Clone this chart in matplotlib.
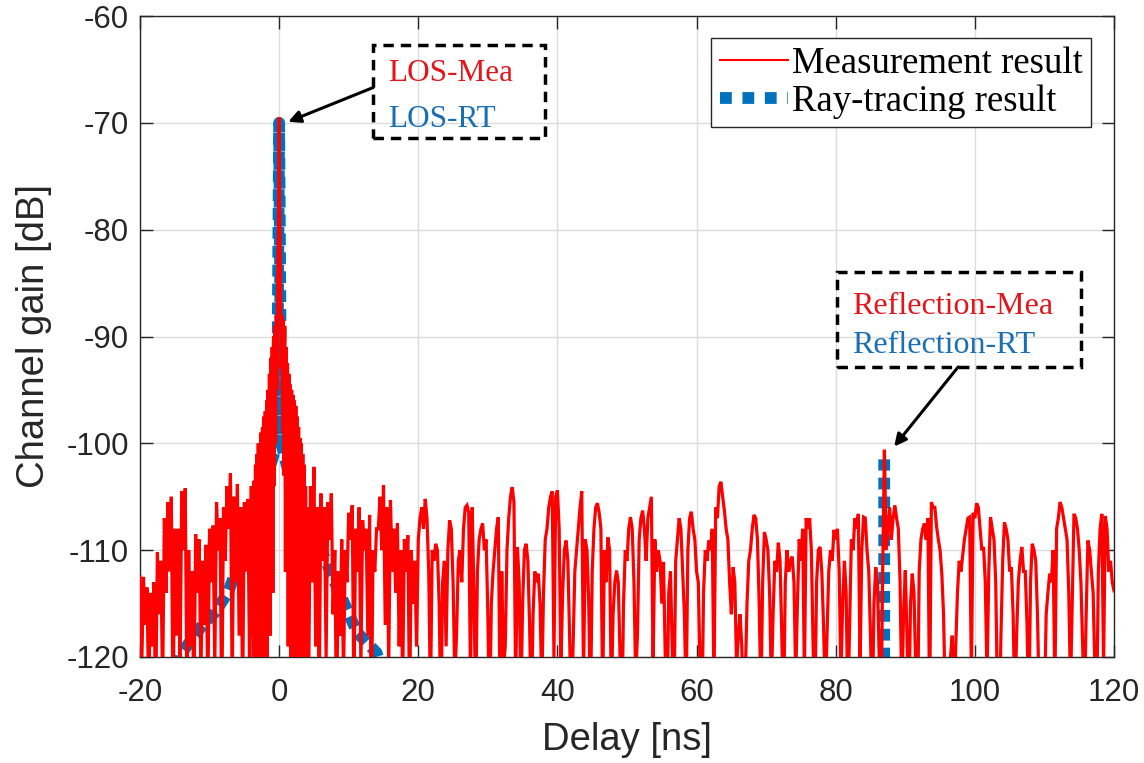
import numpy as np
import matplotlib
matplotlib.use("Agg")
import matplotlib.pyplot as plt
from matplotlib.lines import Line2D
from matplotlib.patches import Rectangle

# ---------------- data ----------------
# Measurement result, delay -20 .. -4.25 ns: local peaks (every 0.5 ns from -20)
# and the troughs between them (every 0.5 ns from -19.75)
meas_left_start, meas_left_step = -20.0, 0.25
meas_left_peaks = [-112.5, -112.5, -113.5, -114, -113, -110.2, -111, -107, -105.5, -105,
                   -108, -108, -104.5, -104.2, -110, -112, -108.5, -109, -111, -109.5,
                   -108, -107.7, -105.5, -107, -106, -104, -102.8, -105, -103.8, -106,
                   -105.5, -105.2]
meas_left_troughs = [-121, -117, -124, -119, -125, -116, -123, -114, -112, -126,
                     -118, -122, -110, -124, -119, -125, -114, -122, -117, -124,
                     -113, -121, -110, -126, -111, -108, -123, -113, -118, -124,
                     -112, -121]

# main lobe around the LOS path, -4.0 .. 3.9 ns
meas_lobe_start, meas_lobe_step = -4.0, 0.1
meas_lobe_gain = [
    -104, -118, -106, -124, -103.5, -112, -102, -121, -101, -115,
    -100, -126, -100, -117, -99, -122, -98.5, -113, -97.5, -125,
    -97, -116, -96, -120, -95, -111, -93.5, -118, -92, -108,
    -91, -114, -90, -104, -89, -100, -88, -95, -84, -80,
    -69.5,
    -78, -84, -93, -88, -99, -88.5, -103, -89, -112, -91,
    -107, -92.5, -119, -93.5, -110, -94.5, -123, -95, -114, -95.5,
    -121, -96, -112, -96.5, -126, -97.5, -116, -98.5, -120, -99.5,
    -113, -100, -124, -101, -117, -102, -121, -104, -112,
]

# 4.0 .. 20.0 ns: peaks every 0.5 ns from 4.0, troughs between them
meas_right_start, meas_right_step = 4.0, 0.25
meas_right_peaks = [-106, -104, -102.2, -106, -104.7, -106, -105.5, -104.7, -110, -112,
                    -109, -110, -106.5, -105.8, -108, -106, -107.2, -108, -106.7, -110,
                    -108, -105, -103.9, -106, -105.3, -108, -107.5, -110, -109, -108.6,
                    -110, -111, -109]
meas_right_troughs = [-122, -113, -119, -125, -111, -120, -109, -116, -126, -118,
                      -122, -113, -109, -124, -112, -121, -110, -118, -127, -112,
                      -108, -110, -117, -121, -112, -114, -119, -123, -112, -125,
                      -115, -119]

# 20.25 .. 120.0 ns, every 0.25 ns (one group of four per nanosecond)
meas_far_start, meas_far_step = 20.25, 0.25
meas_far_gain = [
    -107, -106, -108, -105.2,   -107, -112, -124, -110,   -111, -109.4, -110, -115,
    -126, -113, -111, -119,     -110, -107.2, -108, -113, -122, -118, -111, -110,
    -113, -108, -106, -105.8,   -106.5, -122, -106, -114, -125, -112, -109, -108,
    -107.5, -110, -109, -116,   -127, -115, -112, -110,   -108, -106.9, -124, -112,
    -121, -119, -110, -107,     -105, -104.1, -105.5, -123, -109.7, -113, -124, -115,
    -110, -109.4, -111, -117,   -126, -116, -112, -113,   -112.2, -115, -123, -114,
    -109, -108, -106, -105,     -104.5, -120, -105, -104.4, -108, -121, -114, -110,
    -109.1, -111, -118, -126,   -119, -112, -110, -108,   -106, -104.5, -122, -109,
    -110, -115, -125, -112,     -108, -106, -105.6, -106.5, -108, -124, -110, -113,
    -108.8, -110, -124, -116,   -113, -111.9, -113, -120, -127, -115, -110, -111,
    -108, -106.9, -108, -113,   -122, -118, -109, -107,   -106.3, -108, -111, -107,
    -106, -105, -121, -109,     -112, -110, -111, -115,   -111.1, -120, -126, -114,
    -112, -119, -125, -111,     -109, -107, -108, -112,   -116, -124, -110, -107,
    -106.4, -108, -109, -112,   -113, -121, -127, -114,   -110, -111, -109.1, -110,
    -108, -123, -106, -107,     -104, -103.6, -105, -106.3, -108, -109, -113, -116,
    -111.6, -113, -121, -118,   -116, -119, -126, -122,   -115, -111, -110, -108,
    -106.7, -107, -109, -115,   -124, -113, -108.3, -109, -110, -114, -123, -116,
    -111, -112, -109.3, -111,   -118, -126, -113, -110,   -112, -111, -110.6, -113,
    -122, -115, -109, -111,     -108, -122, -107, -108,   -107, -110, -119, -125,
    -113, -110, -109.7, -112,   -117, -124, -118, -112,   -110, -111, -108.1, -109,
    -108, -112, -122, -115,     -111, -114, -125, -117,   -109, -110, -107, -108,
    -106.6, -121, -110, -106.9, -107, -110, -112, -118,   -126, -115, -111.6, -113,
    -120, -127, -112, -100.6,   -110, -108, -106, -109,   -107, -105.8, -107, -108,
    -113, -124, -116, -111.9,   -118, -126, -115, -112.2, -114, -121, -127, -112,
    -109, -108, -107.5, -109,   -107, -125, -105.5, -106, -106, -107.8, -109, -110,
    -112.2, -116, -124, -121,   -127, -120, -118, -125,   -119, -114, -111, -112,
    -110.5, -109, -108, -107,   -106.9, -122, -106.5, -107, -105.6, -106, -108, -110,
    -109.7, -113, -122, -112,   -106.9, -108, -109, -113, -124, -127, -118, -111,
    -107.4, -108, -109, -112,   -111.6, -116, -125, -118, -113, -111, -109.7, -112,
    -112, -117, -126, -113,     -109.4, -110, -111, -116, -124, -127, -121, -125,
    -116, -114, -112.2, -113,   -110, -123, -108, -107,   -105.5, -106, -107, -108,
    -109, -114, -123, -115,     -106.6, -107, -108, -110, -113.1, -119, -125, -116,
    -109.1, -110, -112, -114,   -121, -126, -112, -108,   -106.6, -121, -106.8, -108,
    -112, -111, -113, -113.8,
]

# Ray-tracing result (delay ns, gain dB); NaN separates the LOS and reflection paths
rt_delay = [-14.6, -14.0, -11.0, -9.2, -7.3, -4.0, -0.3, 0.0, 0.3, 2.0, 4.0, 8.0, 11.2, 14.0, 14.6,
            np.nan, 86.97, 86.97]
rt_gain = [-121, -119.6, -117.0, -115.8, -113.9, -108.0, -100.0, -70.0, -100.0, -104.4, -106.8,
           -113.0, -117.7, -119.6, -121, np.nan, -122.0, -101.5]

x_ticks = [-20, 0, 20, 40, 60, 80, 100, 120]
y_ticks = [-120, -110, -100, -90, -80, -70, -60]

# ---------------- figure ----------------
plt.rcParams['axes.unicode_minus'] = False
sans = ['Liberation Sans', 'DejaVu Sans']
serif = ['Liberation Serif', 'DejaVu Serif']

fig = plt.figure(figsize=(11.44, 7.63), dpi=100)
ax = fig.add_axes([140 / 1144, 1 - 657 / 763, 974 / 1144, 641 / 763])


def seg(start, step, vals):
    vals = np.asarray(vals, float)
    n = len(vals)
    return np.linspace(start, start + step * (n - 1), n), vals


def interleave(peaks, troughs):
    out = []
    for i, p in enumerate(peaks):
        out.append(p)
        if i < len(troughs):
            out.append(troughs[i])
    return out


parts = [seg(meas_left_start, meas_left_step, interleave(meas_left_peaks, meas_left_troughs)),
         seg(meas_lobe_start, meas_lobe_step, meas_lobe_gain),
         seg(meas_right_start, meas_right_step, interleave(meas_right_peaks, meas_right_troughs)),
         seg(meas_far_start, meas_far_step, meas_far_gain)]
mx = np.concatenate([p[0] for p in parts])
my = np.concatenate([p[1] for p in parts])

red = '#FF0000'
blue = '#0072BD'

ax.plot(mx, my, color=red, lw=2.3, zorder=3, solid_joinstyle='miter')
ax.plot(rt_delay, rt_gain, color=blue, lw=8.5, linestyle=(0, (1.0, 0.6)),
        dash_capstyle='butt', solid_capstyle='butt', zorder=2)

ax.set_xlim(-20, 120)
ax.set_ylim(-120, -60)
ax.set_xticks(x_ticks)
ax.set_yticks(y_ticks)
ax.set_xticklabels([str(t) for t in x_ticks], fontfamily=sans, fontsize=22.5)
ax.set_yticklabels([str(t) for t in y_ticks], fontfamily=sans, fontsize=22.5)
ax.tick_params(direction='in', length=9, width=1.0, top=True, right=True,
               color='#262626', labelcolor='#262626')
ax.tick_params(axis='x', pad=15)
ax.tick_params(axis='y', pad=8)
ax.grid(True, color='#dcdcdc', lw=1.0, zorder=0)
ax.set_axisbelow(True)
for s in ax.spines.values():
    s.set_color('#262626')
    s.set_linewidth(1.0)

ax.set_xlabel('Delay [ns]', fontfamily=sans, fontsize=27.5, color='#262626', labelpad=10)
ax.set_ylabel('Channel gain [dB]', fontfamily=sans, fontsize=27.5, color='#262626', labelpad=10)

# Legend
h_meas = Line2D([], [], color=red, lw=1.5)
h_rt = Line2D([], [], color=blue, lw=8.5, linestyle=(0, (1.0, 0.9)), dash_capstyle='butt')
leg = ax.legend([h_meas, h_rt], ['Measurement result', 'Ray-tracing result'],
                loc='upper right', bbox_to_anchor=(0.9764, 0.9657),
                prop={'family': serif, 'size': 26.5}, frameon=True, fancybox=False,
                edgecolor='#262626', framealpha=1, borderpad=0.22, labelspacing=0.1,
                handlelength=1.85, handletextpad=0.12, borderaxespad=0)
leg.get_frame().set_linewidth(1.0)

# Annotation boxes
ax.add_patch(Rectangle((13.5, -71.4), 38.2 - 13.5, -62.7 + 71.4, fill=False,
                       edgecolor='black', lw=2.5, linestyle=(0, (3, 2)), zorder=5))
ax.text(15.6, -65.4, 'LOS-Mea', color='#E3151B', fontfamily=serif, fontsize=22.5,
        va='center', ha='left', zorder=6)
ax.text(15.6, -69.7, 'LOS-RT', color='#1A6FB4', fontfamily=serif, fontsize=22.5,
        va='center', ha='left', zorder=6)
ax.annotate('', xy=(1.3, -69.9), xytext=(13.5, -66.7),
            arrowprops=dict(arrowstyle='-|>', color='black', lw=2.2,
                            mutation_scale=18, shrinkA=0, shrinkB=0), zorder=6)

ax.add_patch(Rectangle((80.2, -92.85), 115.3 - 80.2, -84.0 + 92.85, fill=False,
                       edgecolor='black', lw=2.5, linestyle=(0, (3, 2)), zorder=5))
ax.text(82.4, -87.2, 'Reflection-Mea', color='#E3151B', fontfamily=serif, fontsize=23,
        va='center', ha='left', zorder=6)
ax.text(82.4, -90.8, 'Reflection-RT', color='#1A6FB4', fontfamily=serif, fontsize=23,
        va='center', ha='left', zorder=6)
ax.annotate('', xy=(88.4, -100.3), xytext=(97.6, -92.85),
            arrowprops=dict(arrowstyle='-|>', color='black', lw=2.2,
                            mutation_scale=18, shrinkA=0, shrinkB=0), zorder=6)

fig.savefig('out.png', dpi=100, facecolor='white')
